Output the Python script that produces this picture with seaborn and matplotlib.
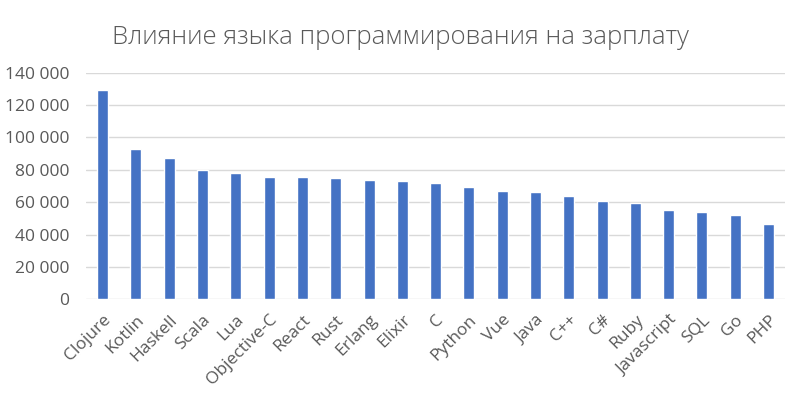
import numpy as np
import pandas as pd
import seaborn as sns
import matplotlib.pyplot as plt
from matplotlib.ticker import FuncFormatter

# Données
languages = ["Clojure", "Kotlin", "Haskell", "Scala", "Lua", "Objective-C", "React",
             "Rust", "Erlang", "Elixir", "C", "Python", "Vue", "Java", "C++", "C#",
             "Ruby", "Javascript", "SQL", "Go", "PHP"]
salaries = [129000, 93000, 87000, 79700, 78300, 75400, 75400,
            74800, 73500, 72800, 72000, 69600, 67100, 66500, 63700, 60600,
            59400, 55100, 53900, 52000, 46700]

df = pd.DataFrame({"language": languages, "salary": salaries})

sns.set_theme(style="white")
plt.rcParams["font.family"] = ["Open Sans", "DejaVu Sans"]

fig = plt.figure(figsize=(8, 3.97), dpi=100)
ax = fig.add_axes([0.1075, 0.246, 0.874, 0.571])

sns.barplot(data=df, x="language", y="salary", color="#4472C4", width=0.33,
            saturation=1, ax=ax, zorder=3)

ax.set_ylim(0, 140000)
ax.set_yticks(np.arange(0, 140001, 20000))
ax.yaxis.set_major_formatter(FuncFormatter(lambda v, p: f"{int(v):,}".replace(",", " ")))
ax.grid(axis="y", color="#d9d9d9", linewidth=1, zorder=0)
for s in ax.spines.values():
    s.set_visible(False)

ax.tick_params(axis="y", labelsize=12.5, colors="#595959", length=0, pad=12)
ax.tick_params(axis="x", labelsize=12.5, colors="#595959", length=0, pad=9)
plt.setp(ax.get_xticklabels(), rotation=45, ha="right", rotation_mode="anchor")
ax.set_xlabel("")
ax.set_ylabel("")

fig.text(0.5, 0.905, "Влияние языка программирования на зарплату", ha="center", va="center",
         fontsize=18.5, color="#595959", fontweight="light")

fig.savefig("out.png", dpi=100)
